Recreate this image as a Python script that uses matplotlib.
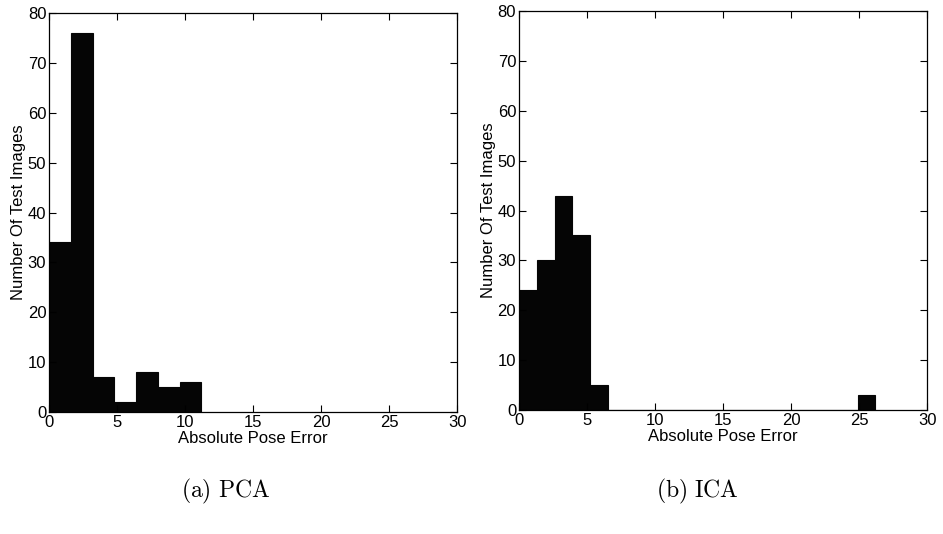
import numpy as np
from matplotlib import pyplot as plt

plt.rcParams['font.family'] = ['Liberation Sans Narrow', 'Liberation Sans', 'DejaVu Sans']
plt.rcParams['mathtext.fontset'] = 'cm'

# histogram counts
pca_width = 1.6
pca_counts = [34, 76, 7, 2, 8, 5, 6]
ica_width = 1.31
ica_counts = [24, 30, 43, 35, 5, 0, 0, 0, 0, 0,
              0, 0, 0, 0, 0, 0, 0, 0, 0, 3]

xticks = [0, 5, 10, 15, 20, 25, 30]
yticks = [0, 10, 20, 30, 40, 50, 60, 70, 80]
captions = ['(a) PCA', '(b) ICA']

fig = plt.figure(figsize=(9.43, 5.34), dpi=100)
ax1 = fig.add_axes([0.052, 0.2285, 0.4327, 0.747])
ax2 = fig.add_axes([0.5504, 0.2322, 0.4327, 0.747])

for ax, counts, w in [(ax1, pca_counts, pca_width), (ax2, ica_counts, ica_width)]:
    edges = np.arange(len(counts)) * w
    ax.bar(edges, counts, width=w, align='edge', color='#050505',
           edgecolor='#050505', linewidth=0.8)
    ax.set_xlim(0, 30)
    ax.set_ylim(0, 80)
    ax.set_xticks(xticks)
    ax.set_yticks(yticks)
    ax.tick_params(direction='in', top=True, right=True, length=5,
                   width=0.8, labelsize=12, pad=2)
    for s in ax.spines.values():
        s.set_linewidth(0.9)
    ax.set_xlabel('Absolute Pose Error', fontsize=12, labelpad=1)
    ax.set_ylabel('Number Of Test Images', fontsize=12, labelpad=1)

for x, txt in zip([0.239, 0.740], captions):
    fig.text(x, 0.08, r'$\mathrm{' + txt.replace(' ', r'\ ') + '}$',
             ha='center', va='center', fontsize=17)

plt.savefig('out.png', dpi=100)
